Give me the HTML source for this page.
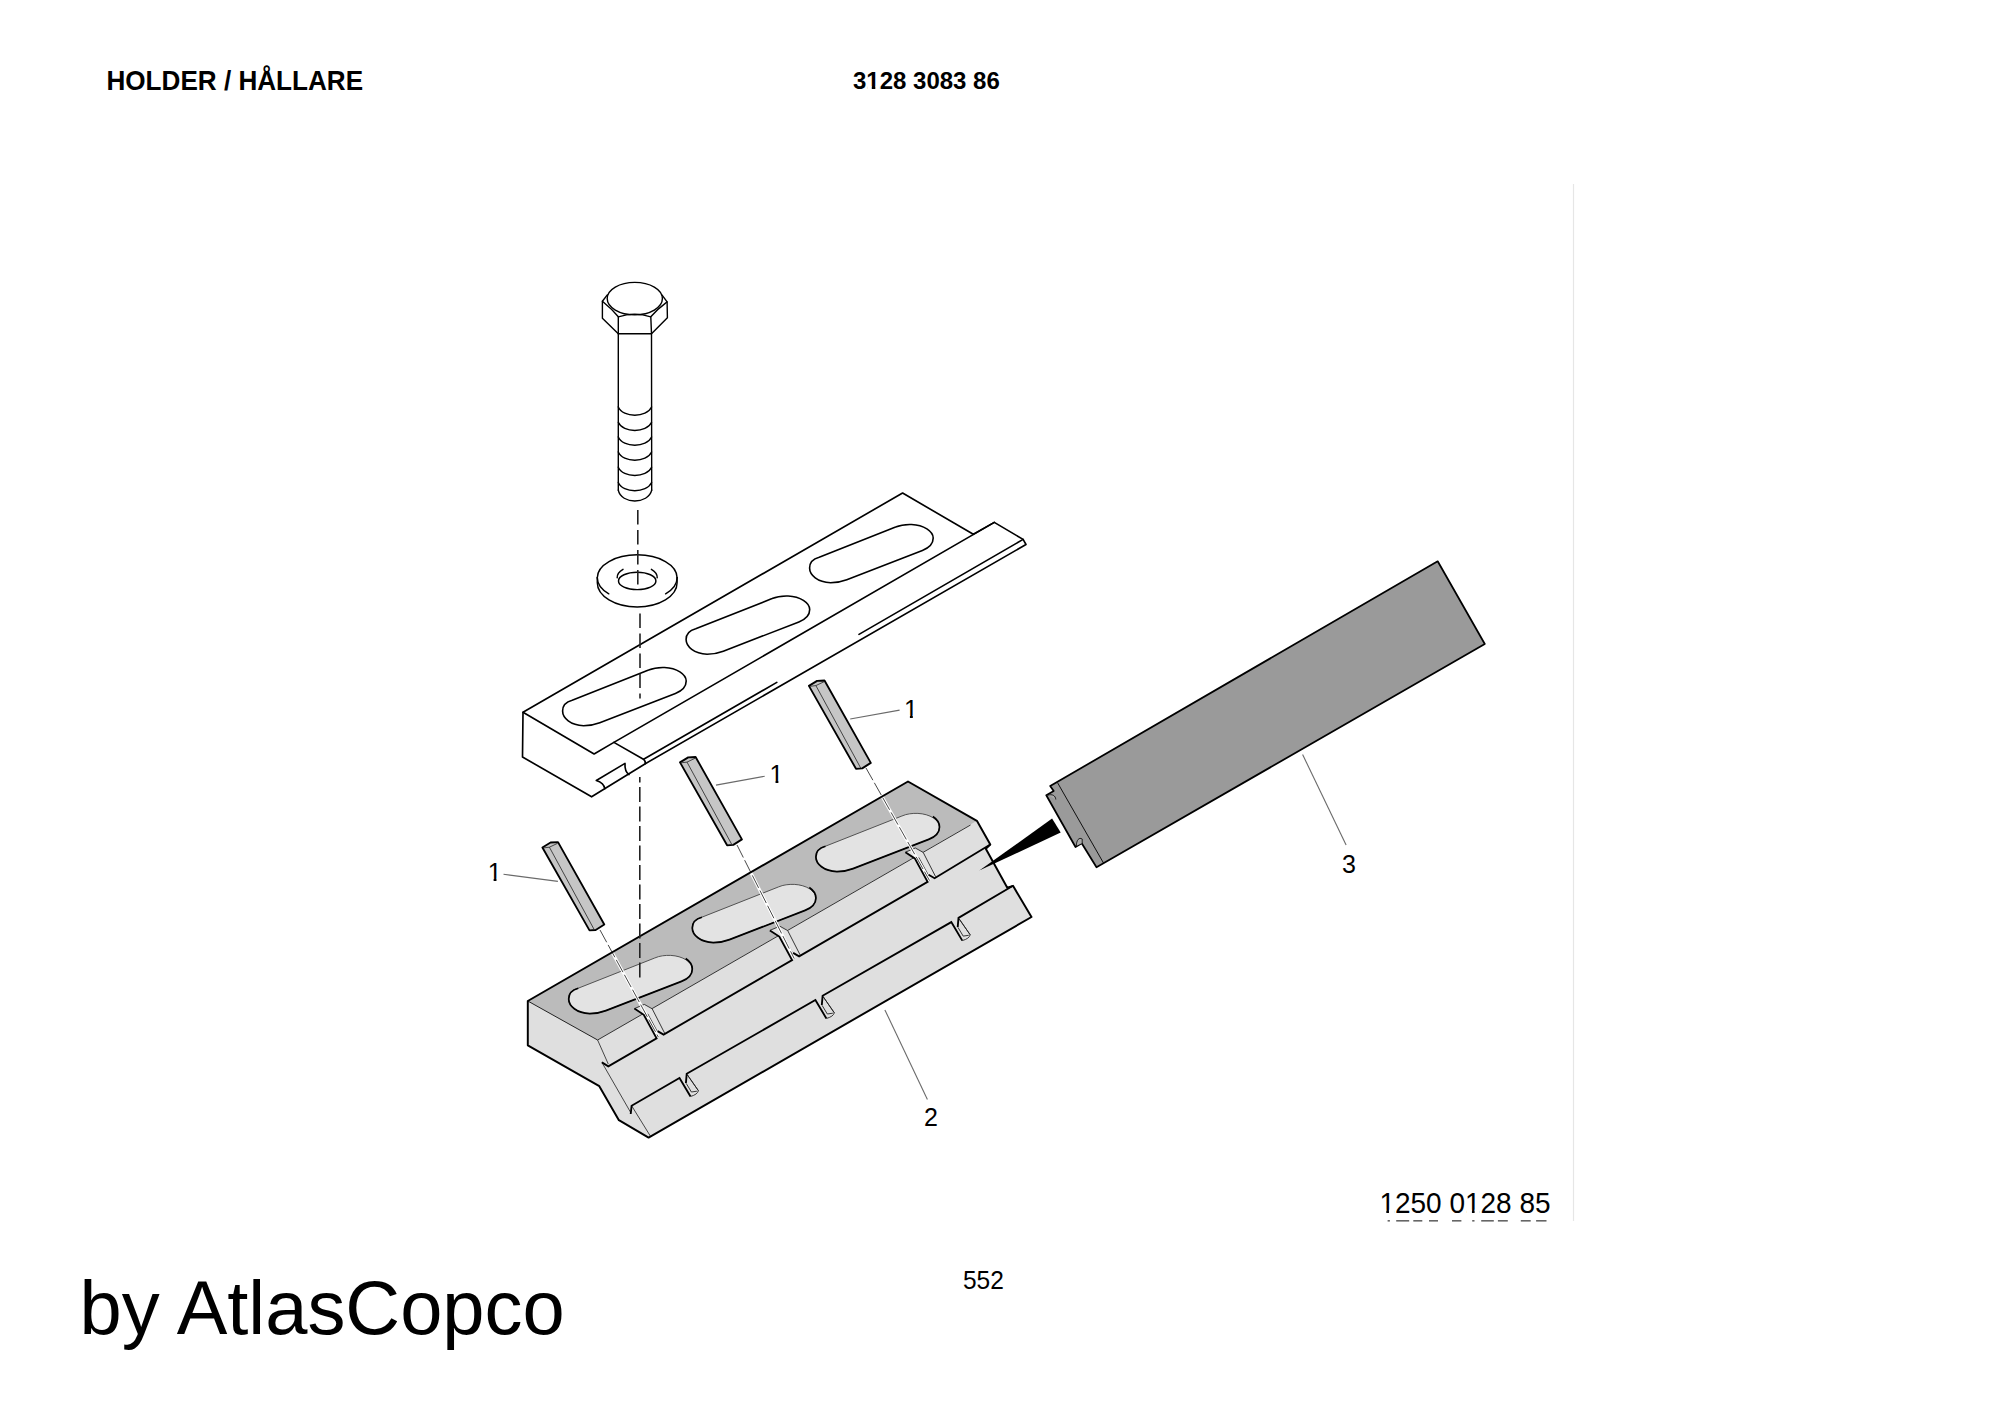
<!DOCTYPE html>
<html><head><meta charset="utf-8">
<style>
html,body{margin:0;padding:0;background:#fff;width:2000px;height:1414px;overflow:hidden}
svg{position:absolute;left:0;top:0}
.t{font-family:"Liberation Sans",sans-serif;fill:#000}
.k{fill:none;stroke:#000;stroke-width:2;stroke-linejoin:round;stroke-linecap:round}
.n{fill:none;stroke:#000;stroke-width:1;stroke-linejoin:round;stroke-linecap:round}
.ld{fill:none;stroke:#555;stroke-width:1.1}
</style></head>
<body>
<svg width="2000" height="1414" viewBox="0 0 2000 1414">
<defs><clipPath id="cl3128" clipPathUnits="userSpaceOnUse"><path clip-rule="evenodd" d="M830,50 H1020 V110 H830 Z M867.28,86.00 H871.76 V90.50 H867.28 Z M875.33,86.00 H879.52 V90.50 H875.33 Z"/></clipPath><clipPath id="cl1250" clipPathUnits="userSpaceOnUse"><path clip-rule="evenodd" d="M1360,1170 H1570 V1230 H1360 Z M1380.93,1210.00 H1386.31 V1214.90 H1380.93 Z M1388.96,1210.00 H1394.11 V1214.90 H1388.96 Z M1466.55,1210.00 H1471.93 V1214.90 H1466.55 Z M1474.58,1210.00 H1479.74 V1214.90 H1474.58 Z"/></clipPath></defs>
<!-- header text -->
<text class="t" x="106.5" y="90" transform="translate(0,90) scale(1,1.03) translate(0,-90)" style="font-weight:bold;font-size:26.1px">HOLDER / HÅLLARE</text>
<text class="t" clip-path="url(#cl3128)" x="853" y="89" transform="translate(0,89) scale(1,1.03) translate(0,-89)" style="font-weight:bold;font-size:24px">3128 3083 86</text>
<text class="t" clip-path="url(#cl1250)" x="1379.4" y="1213.4" transform="translate(0,1213.4) scale(1,1.05) translate(0,-1213.4)" style="font-size:28px">1250 0128 85</text>
<text class="t" x="963" y="1289.2" transform="translate(0,1289.2) scale(1,1.04) translate(0,-1289.2)" style="font-size:24.5px">552</text>
<text class="t" x="79.6" y="1334" style="font-size:75.9px">by AtlasCopco</text>
<g id="dashes" fill="#666"><rect x="1387.6" y="1220" width="2.3" height="1.6"/><rect x="1396.2" y="1220" width="13.0" height="1.6"/><rect x="1413.3" y="1220" width="9.0" height="1.6"/><rect x="1429.0" y="1220" width="9.0" height="1.6"/><rect x="1452.0" y="1220" width="9.4" height="1.6"/><rect x="1472.2" y="1220" width="2.3" height="1.6"/><rect x="1481.2" y="1220" width="12.6" height="1.6"/><rect x="1497.9" y="1220" width="9.9" height="1.6"/><rect x="1520.8" y="1220" width="9.9" height="1.6"/><rect x="1536.1" y="1220" width="10.4" height="1.6"/></g>
<!-- faint frame line -->
<line x1="1573.5" y1="184" x2="1573.5" y2="1221" stroke="#e6e6e6" stroke-width="1.2"/>

<!-- DIAGRAM -->
<g id="diagram">
<!-- BOLT -->
<g id="bolt"><g fill="none" stroke="#000" stroke-width="1.4" stroke-linejoin="round" stroke-linecap="round">
<path d="M607.3,294.9 L602.4,301.2 L602.4,318.2 L618.3,333.7 L651.5,333.7 L667.4,317.8 L667.1,301.9 L662.1,295.2"/>
<ellipse cx="634.8" cy="298.6" rx="27.6" ry="16.2"/>
<path d="M602.4,301.2 Q612,309 618.3,316.8 L618.3,333.7"/>
<path d="M667.1,301.9 Q657.5,309 650.8,316.8 L651.5,333.7"/>
<path d="M618.3,316.8 Q634.8,311.5 650.8,316.8"/>
<path d="M618.3,333.7 L618.3,490.2 M651.5,333.7 L651.7,490.2"/>
<path d="M618.3,407 C623,418 646.5,418 651.6,407"/>
<path d="M618.3,422.3 C623,433.3 646.5,433.3 651.6,422.3"/>
<path d="M618.3,437 C623,448 646.5,448 651.6,437"/>
<path d="M618.3,452 C623,463 646.5,463 651.6,452"/>
<path d="M618.3,467.2 C623,478.2 646.5,478.2 651.6,467.2"/>
<path d="M618.3,482.5 C623,493.5 646.5,493.5 651.6,482.5"/>
<path d="M618.3,490.2 C621,504.5 648.5,504.5 651.7,490.2"/>
</g></g><!--/bolt-->
<!-- WASHER -->
<g id="washer"><g fill="none" stroke="#000" stroke-width="1.45" stroke-linecap="round">
<path d="M597.3,577.7 A39.9,22.9 0 0 1 677.1,577.7"/>
<path d="M597.3,577.7 L597.3,582.8 A39.9,24.2 0 0 0 677.1,582.8 L677.1,577.7"/>
<path d="M597.3,577.7 A39.9,22.9 0 0 0 608.8,593.8"/>
<path d="M677.1,577.7 A39.9,22.9 0 0 1 665.6,593.8"/>
<path d="M617.2,577.7 A20,11.5 0 0 1 623,569.3"/>
<path d="M657.2,577.7 A20,11.5 0 0 0 651.4,569.3"/>
<ellipse cx="637.2" cy="580.9" rx="18.7" ry="8.7"/>
</g></g><!--/washer-->
<!-- PLATE -->
<g id="plate"><g fill="#fff" stroke="#000" stroke-width="1.65" stroke-linejoin="round" stroke-linecap="round">
<path d="M523,712.3 L902.6,493 L973.3,534.3 L994.3,522.4 L1023.1,539.4 L1026,544.5 L645.3,763.7 L591.6,796.8 L522.5,757 Z"/>
<path fill="none" d="M523,712.3 L594.1,754 L613.9,742.4 L994.3,522.4"/>
<path fill="none" d="M613.9,742.4 L643.4,759.2 Q645.5,761 645.3,763.7"/>
<path fill="none" d="M643.6,759.2 L776.8,682.4 M859,634.4 L1023.1,539.4"/>
<path fill="none" d="M604.8,788.7 Q604,783 596.3,780.5 L625,763.4 Q624.5,771.5 629,774.6"/>
<path fill="none" stroke-width="1.6" d="M562.6,711.1 C562.6,705.1 566.1,701.9 572.2,700.3 L648.6,670.1 C653.6,667.9 659.1,667.3 664.6,667.5 C676.6,668.1 686.2,674.1 686.2,681.1 C686.2,686.6 681.6,691.1 675.4,693.5 L599.8,722.7 C594.6,724.7 589.6,725.7 583.6,725.7 C570.6,725.3 562.6,718.1 562.6,711.1 Z"/>
<path fill="none" stroke-width="1.6" d="M686.1,639.6 C686.1,633.6 689.6,630.4 695.7,628.8 L772.1,598.6 C777.1,596.4 782.6,595.8 788.1,596 C800.1,596.6 809.7,602.6 809.7,609.6 C809.7,615.1 805.1,619.6 798.9,622 L723.3,651.2 C718.1,653.2 713.1,654.2 707.1,654.2 C694.1,653.8 686.1,646.6 686.1,639.6 Z"/>
<path fill="none" stroke-width="1.6" d="M809.6,568.1 C809.6,562.1 813.1,558.9 819.2,557.3 L895.6,527.1 C900.6,524.9 906.1,524.3 911.6,524.5 C923.6,525.1 933.2,531.1 933.2,538.1 C933.2,543.6 928.6,548.1 922.4,550.5 L846.8,579.7 C841.6,581.7 836.6,582.7 830.6,582.7 C817.6,582.3 809.6,575.1 809.6,568.1 Z"/>
</g></g><!--/plate-->
<!-- BLOCK -->
<g id="block"><path d="M527.8,1001 L908,781.5 L976.9,820.8 L990.3,844.5 L985.8,848.8 L1007.3,887.7 L1013,885.8 L1031.5,917 L648.6,1137.6 L618.9,1120.2 L599.3,1086.2 L527.8,1045.3 Z" fill="#dfdfdf"/>
<path d="M527.8,1001 L908,781.5 L976.9,820.8 L597.6,1040 Z" fill="#bbbbbb"/>
<polygon points="634.4,1008.6 644.3,1004.4 652.2,1008.8 664.6,1033.1 663.6,1034.6 657.6,1031.1 656.6,1038.3 643.8,1014.8" fill="#e3e3e3"/>
<polygon points="769.9,930.4 779.8,926.2 787.7,930.6 800.1,954.9 799.1,956.4 793.1,952.9 792.1,960.1 779.3,936.6" fill="#e3e3e3"/>
<polygon points="905.4,852.2 915.3,848 923.2,852.4 935.6,876.7 934.6,878.2 928.6,874.7 927.6,881.9 914.8,858.4" fill="#e3e3e3"/>
<path d="M568.7,999 C568.7,993 572.2,989.8 578.3,988.2 L654.7,958 C659.7,955.8 665.2,955.2 670.7,955.4 C682.7,956 692.3,962 692.3,969 C692.3,974.5 687.7,979 681.5,981.4 L605.9,1010.6 C600.7,1012.6 595.7,1013.6 589.7,1013.6 C576.7,1013.2 568.7,1006 568.7,999 Z" fill="#e3e3e3" stroke="#444" stroke-width="0.9"/>
<path d="M685.7,958.5 C690.2,961.5 692.3,965 692.3,969 C692.3,974.5 687.7,979 681.5,981.4 L605.9,1010.6 C600.7,1012.6 595.7,1013.6 589.7,1013.6 C576.7,1013.2 568.7,1006 568.7,999 M568.7,999 C568.7,993 572.2,989.8 578.3,988.2" fill="none" stroke="#000" stroke-width="1.7"/>
<path d="M692.3,928 C692.3,922 695.8,918.8 701.9,917.2 L778.3,887 C783.3,884.8 788.8,884.2 794.3,884.4 C806.3,885 815.9,891 815.9,898 C815.9,903.5 811.3,908 805.1,910.4 L729.5,939.6 C724.3,941.6 719.3,942.6 713.3,942.6 C700.3,942.2 692.3,935 692.3,928 Z" fill="#e3e3e3" stroke="#444" stroke-width="0.9"/>
<path d="M809.3,887.5 C813.8,890.5 815.9,894 815.9,898 C815.9,903.5 811.3,908 805.1,910.4 L729.5,939.6 C724.3,941.6 719.3,942.6 713.3,942.6 C700.3,942.2 692.3,935 692.3,928 M692.3,928 C692.3,922 695.8,918.8 701.9,917.2" fill="none" stroke="#000" stroke-width="1.7"/>
<path d="M815.9,857 C815.9,851 819.4,847.8 825.5,846.2 L901.9,816 C906.9,813.8 912.4,813.2 917.9,813.4 C929.9,814 939.5,820 939.5,827 C939.5,832.5 934.9,837 928.7,839.4 L853.1,868.6 C847.9,870.6 842.9,871.6 836.9,871.6 C823.9,871.2 815.9,864 815.9,857 Z" fill="#e3e3e3" stroke="#444" stroke-width="0.9"/>
<path d="M932.9,816.5 C937.4,819.5 939.5,823 939.5,827 C939.5,832.5 934.9,837 928.7,839.4 L853.1,868.6 C847.9,870.6 842.9,871.6 836.9,871.6 C823.9,871.2 815.9,864 815.9,857 M815.9,857 C815.9,851 819.4,847.8 825.5,846.2" fill="none" stroke="#000" stroke-width="1.7"/>
<path d="M597.6,1040 L970.5,825" stroke="#333" stroke-width="1" fill="none"/>
<polygon points="634.4,1008.6 644.3,1004.4 652.2,1008.8 664.6,1033.1 657.6,1031.1 656.6,1038.3 643.8,1014.8" fill="#e3e3e3"/>
<path d="M634.4,1008.6 L644.3,1004.4 L652.2,1008.8 L664.6,1033.1 M647.7,1013.8 L657.1,1031.1" stroke="#222" stroke-width="0.9" fill="none"/>
<polygon points="769.9,930.4 779.8,926.2 787.7,930.6 800.1,954.9 793.1,952.9 792.1,960.1 779.3,936.6" fill="#e3e3e3"/>
<path d="M769.9,930.4 L779.8,926.2 L787.7,930.6 L800.1,954.9 M783.2,935.6 L792.6,952.9" stroke="#222" stroke-width="0.9" fill="none"/>
<polygon points="905.4,852.2 915.3,848 923.2,852.4 935.6,876.7 928.6,874.7 927.6,881.9 914.8,858.4" fill="#e3e3e3"/>
<path d="M905.4,852.2 L915.3,848 L923.2,852.4 L935.6,876.7 M918.7,857.4 L928.1,874.7" stroke="#222" stroke-width="0.9" fill="none"/>
<line x1="866" y1="768" x2="929.5" y2="880.5" stroke="#fff" stroke-width="3"/>
<line x1="866" y1="768" x2="929.5" y2="880.5" stroke="#333" stroke-width="0.9" stroke-dasharray="14 3"/>
<line x1="737" y1="845" x2="794.2" y2="958.5" stroke="#fff" stroke-width="3"/>
<line x1="737" y1="845" x2="794.2" y2="958.5" stroke="#333" stroke-width="0.9" stroke-dasharray="14 3"/>
<line x1="600" y1="930" x2="658.3" y2="1037" stroke="#fff" stroke-width="3"/>
<line x1="600" y1="930" x2="658.3" y2="1037" stroke="#333" stroke-width="0.9" stroke-dasharray="14 3"/>
<path d="M597.6,1040 L608.3,1064.1 M601.9,1062.4 L630.7,1112.5 M631.6,1105.7 L650.3,1136" stroke="#333" stroke-width="0.9" fill="none"/>
<polyline points="601.9,1062.4 608.3,1066.3 656.6,1038.3 643.8,1014.8 634.4,1008.6" stroke="#000" stroke-width="1.85" fill="none" stroke-linejoin="miter"/>
<polyline points="657.6,1031.1 663.6,1034.6 792.1,960.1 779.3,936.6 769.9,930.4" stroke="#000" stroke-width="1.85" fill="none"/>
<polyline points="793.1,952.9 799.1,956.4 927.6,881.9 914.8,858.4 905.4,852.2" stroke="#000" stroke-width="1.85" fill="none"/>
<polyline points="928.6,874.7 934.6,878.2 990.3,844.5" stroke="#000" stroke-width="1.85" fill="none"/>
<polyline points="630.7,1114 631.6,1105.7 679.5,1078 690.5,1096.5" stroke="#000" stroke-width="1.85" fill="none"/>
<path d="M690.5,1096.5 Q697.5,1094.5 698.4,1090.7 L687.2,1074.6 M698.4,1090.7 L687.2,1074.6 M686.3,1083.5 L691.4,1092 L696.9,1091.2" stroke="#222" stroke-width="0.9" fill="none"/>
<polyline points="685.9,1083.1 686.7,1073.8 815.4,1000 826.4,1018.5" stroke="#000" stroke-width="1.85" fill="none"/>
<path d="M826.4,1018.5 Q833.4,1016.5 834.3,1012.8 L823.1,996.6 M834.3,1012.8 L823.1,996.6 M822.2,1005.5 L827.3,1014 L832.8,1013.2" stroke="#222" stroke-width="0.9" fill="none"/>
<polyline points="821.8,1005.1 822.6,995.8 951.3,922.1 962.3,940.6" stroke="#000" stroke-width="1.85" fill="none"/>
<path d="M962.3,940.6 Q969.3,938.6 970.2,934.8 L959,918.7 M970.2,934.8 L959,918.7 M958.1,927.6 L963.2,936.1 L968.7,935.3" stroke="#222" stroke-width="0.9" fill="none"/>
<polyline points="957.7,927.2 958.5,917.9 1013,885.8" stroke="#000" stroke-width="1.85" fill="none"/>
<path d="M527.8,1001 L597.6,1040" stroke="#222" stroke-width="1.0" fill="none"/>
<path d="M527.8,1001 L908,781.5 L976.9,820.8 L990.3,844.5 L985.8,848.8 L1007.3,887.7 L1013,885.8 L1031.5,917 L648.6,1137.6 L618.9,1120.2 L599.3,1086.2 L527.8,1045.3 Z" fill="none" stroke="#000" stroke-width="1.95" stroke-linejoin="round"/></g><!--/block-->
<!-- PINS -->
<g id="pins"><polygon points="808.9,685.9 817.1,680.9 824.5,680.5 870.8,762.9 862.2,768.4 856,768.8" fill="#c6c6c6" stroke="#000" stroke-width="1.85" stroke-linejoin="round"/>
<path d="M815.9,685.6 L860.7,768 M810.1,686.3 L815.9,685.6 L824.1,681.7" stroke="#222" stroke-width="0.8" fill="none"/>
<polygon points="680,762.4 688.2,757.4 695.6,757 741.9,839.4 733.3,844.9 727.1,845.3" fill="#c6c6c6" stroke="#000" stroke-width="1.85" stroke-linejoin="round"/>
<path d="M687,762.1 L731.8,844.5 M681.2,762.8 L687,762.1 L695.2,758.2" stroke="#222" stroke-width="0.8" fill="none"/>
<polygon points="542.4,847.5 550.6,842.5 558,842.1 604.3,924.5 595.7,930 589.5,930.4" fill="#c6c6c6" stroke="#000" stroke-width="1.85" stroke-linejoin="round"/>
<path d="M549.4,847.2 L594.2,929.6 M543.6,847.9 L549.4,847.2 L557.6,843.3" stroke="#222" stroke-width="0.8" fill="none"/></g><!--/pins-->
<g id="axis"><g stroke="#222" stroke-width="1.6" stroke-dasharray="14.5 5.5" fill="none">
<line x1="637.8" y1="510" x2="637.8" y2="584.5"/>
<line x1="640" y1="613.6" x2="640" y2="698.5"/>
<line x1="639.8" y1="777" x2="639.8" y2="978" stroke-dasharray="15 4.5" stroke-dashoffset="9.5"/>
</g></g><!--/axis-->
<!-- BAR -->
<g id="bar">
<path d="M1050.2,786 L1437.7,561.3 L1484.8,644 L1096.5,867.3 L1081.7,843.2 L1075.5,847 L1046.3,795.3 L1053.7,791 Z" fill="#9a9a9a" stroke="#000" stroke-width="1.75" stroke-linejoin="round"/>
<line x1="1057.6" y1="782.8" x2="1103.5" y2="863" stroke="#000" stroke-width="0.9"/>
<path d="M1048,795.2 C1052,793.8 1055.5,795.5 1055.8,799.5" fill="#aaaaaa" stroke="#000" stroke-width="0.8"/>
<path d="M1076.3,846 C1076.5,840 1079,837 1082.2,839 L1082.2,843" fill="#aaaaaa" stroke="#000" stroke-width="0.8"/>
<path d="M979.3,870.6 L1052.1,818.6 L1060.7,832.6 Z" fill="#000"/>
</g>
<!-- LABELS -->
<g id="labels"><g stroke="#6a6a6a" stroke-width="1.1" fill="none">
<line x1="850.2" y1="719" x2="899.6" y2="710.1"/>
<line x1="716" y1="785.1" x2="764.7" y2="776.2"/>
<line x1="503.5" y1="874.3" x2="557.9" y2="881.4"/>
<line x1="884.9" y1="1009.9" x2="927.4" y2="1099.5"/>
<line x1="1302.6" y1="754.5" x2="1346.1" y2="845"/>
</g>
<defs>
<clipPath id="c1_0" clipPathUnits="userSpaceOnUse"><path d="M902,695.5 H918 V715.2 H902 V695.5 Z M909.9,712.5 H912.8 V718.5 H909.9 Z"/></clipPath>
<clipPath id="c1_1" clipPathUnits="userSpaceOnUse"><path d="M767.6,761.3 H783.6 V781 H767.6 V761.3 Z M775.5,778.3 H778.4 V784.3 H775.5 Z"/></clipPath>
<clipPath id="c1_2" clipPathUnits="userSpaceOnUse"><path d="M485.7,859 H501.7 V878.7 H485.7 V859 Z M493.6,876 H496.5 V882 H493.6 Z"/></clipPath>
</defs>
<g class="t" style="font-size:25px">
<text x="904" y="717.5" clip-path="url(#c1_0)">1</text>
<text x="769.6" y="783.3" clip-path="url(#c1_1)">1</text>
<text x="487.7" y="881" clip-path="url(#c1_2)">1</text>
<text x="924" y="1126.3">2</text>
<text x="1342" y="873">3</text>
</g></g><!--/labels-->
</g>
</svg>
</body></html>
